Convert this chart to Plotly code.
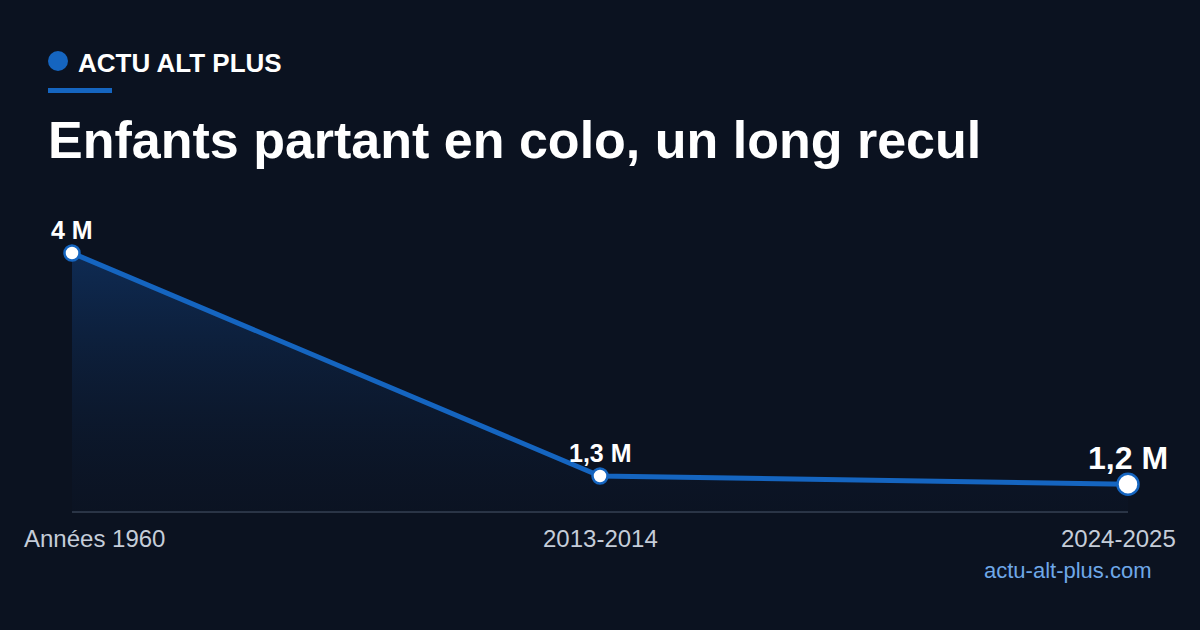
import plotly.graph_objects as go

# data
periods = ["Années 1960", "2013-2014", "2024-2025"]
enfants_millions = [4.0, 1.3, 1.2]
value_labels = ["4 M", "1,3 M", "1,2 M"]

BG = "#0b1220"
BLUE = "#1565c0"
FONT = "Liberation Sans, Arial, sans-serif"

xs = list(range(len(periods)))

# markers, last one bigger
sizes = [15] * (len(xs) - 1) + [21]

fig = go.Figure()

fig.add_trace(go.Scatter(
    x=xs, y=enfants_millions,
    mode="lines+markers",
    line=dict(color=BLUE, width=5),
    marker=dict(size=sizes, color="#ffffff", opacity=1, line=dict(color=BLUE, width=2.5)),
    fill="tozeroy",
    fillgradient=dict(
        type="vertical",
        colorscale=[[0, "rgba(11,18,32,0)"], [1, "rgba(21,90,180,0.35)"]],
    ),
    cliponaxis=False,
    hoverinfo="skip",
    showlegend=False,
))

annotations = []
for i, (x, v, lab) in enumerate(zip(xs, enfants_millions, value_labels)):
    last = i == len(xs) - 1
    annotations.append(dict(
        x=x, y=v, xref="x", yref="y", text=f"<b>{lab}</b>", showarrow=False,
        yshift=26 if last else 23,
        font=dict(family=FONT, size=32 if last else 25, color="white"),
    ))

# category labels under the axis
label_shift = [22, 0, -10]
for x, p, s in zip(xs, periods, label_shift):
    annotations.append(dict(
        x=x, y=0, xref="x", yref="y domain", text=p, showarrow=False,
        yanchor="middle", yshift=-26, xshift=s,
        font=dict(family=FONT, size=24, color="#c5cdd9"),
    ))

header = [
    dict(text="<b>ACTU ALT PLUS</b>", x=78 / 1200, y=1 - 63 / 630, size=26),
    dict(text="<b>Enfants partant en colo, un long recul</b>", x=48 / 1200, y=1 - 140 / 630,
         size=52),
]
for h in header:
    annotations.append(dict(
        x=h["x"], y=h["y"], xref="paper", yref="paper", xanchor="left", yanchor="middle",
        text=h["text"], showarrow=False, xshift=-2,
        font=dict(family=FONT, size=h["size"], color="white"),
    ))

annotations.append(dict(
    x=1154 / 1200, y=1 - 570 / 630, xref="paper", yref="paper", xanchor="right",
    yanchor="middle", text="actu-alt-plus.com", showarrow=False,
    font=dict(family=FONT, size=22, color="#6fa8e8"),
))

# paper is the whole page here (margins set to 0 and the plot area placed via domain)
fig.update_layout(
    width=1200, height=630,
    paper_bgcolor=BG, plot_bgcolor=BG,
    margin=dict(l=0, r=0, t=0, b=0),
    xaxis=dict(domain=[72 / 1200, 1128 / 1200], range=[0, 2], visible=False, fixedrange=True),
    yaxis=dict(domain=[1 - 512 / 630, 1 - 253 / 630], range=[0.864, 4.0], visible=False,
               fixedrange=True),
    annotations=annotations,
    shapes=[
        dict(type="circle", xref="paper", yref="paper",
             x0=48 / 1200, x1=68 / 1200, y0=1 - 71 / 630, y1=1 - 51 / 630,
             fillcolor=BLUE, line=dict(width=0)),
        dict(type="rect", xref="paper", yref="paper",
             x0=48 / 1200, x1=112 / 1200, y0=1 - 93 / 630, y1=1 - 88 / 630,
             fillcolor=BLUE, line=dict(width=0)),
        dict(type="line", xref="paper", yref="paper",
             x0=72 / 1200, x1=1128 / 1200, y0=1 - 512 / 630, y1=1 - 512 / 630,
             line=dict(color="#2b3546", width=2), layer="below"),
    ],
    showlegend=False,
)

fig.write_html("out.html", config={"displayModeBar": False},
               post_script="document.body.style.margin='0';document.body.style.overflow='hidden';")
